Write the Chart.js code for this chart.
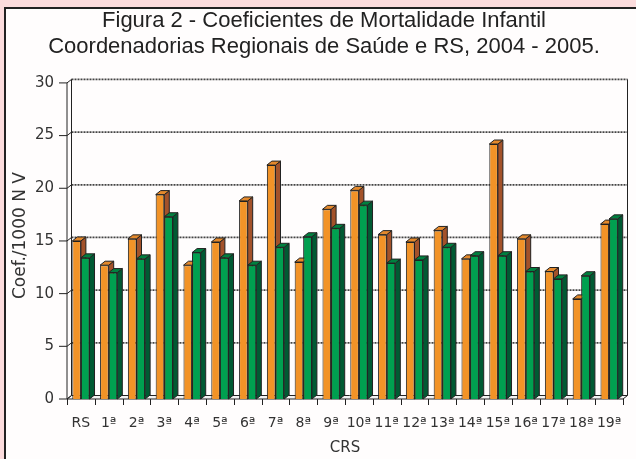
<!DOCTYPE html>
<html>
<head>
<meta charset="utf-8">
<script src="https://cdn.jsdelivr.net/npm/chart.js@4"></script>
<style>
  html, body { margin: 0; padding: 0; }
  body { width: 636px; height: 459px; background: #fcdcdd; position: relative; overflow: hidden; }
  #box { position: absolute; left: 4px; top: 7px; width: 660px; height: 480px; border: 2px solid #222; background: #fffdfd; }
  #wrap { position: absolute; left: 0; top: 0; width: 636px; height: 459px; }
</style>
</head>
<body>
<div id="box"></div>
<div id="wrap"><canvas id="chart" width="636" height="459"></canvas></div>
<script>
const categories = ['RS', '1ª', '2ª', '3ª', '4ª', '5ª', '6ª', '7ª', '8ª', '9ª', '10ª', '11ª', '12ª', '13ª', '14ª', '15ª', '16ª', '17ª', '18ª', '19ª'];
const values2004 = [15.0, 12.7, 15.2, 19.4, 12.7, 14.9, 18.8, 22.2, 13.0, 18.0, 19.8, 15.6, 14.9, 16.0, 13.3, 24.2, 15.2, 12.1, 9.5, 16.6];
const values2005 = [13.4, 12.0, 13.3, 17.3, 13.9, 13.4, 12.7, 14.4, 15.4, 16.2, 18.4, 12.9, 13.2, 14.4, 13.6, 13.6, 12.1, 11.4, 11.7, 17.1];
const yTicks = [0, 5, 10, 15, 20, 25, 30];

// depth of the 3D effect
const DX = 5, DY = 4;     // bars
const WX = 4.5, WY = 3.5; // walls

const faces = [
  { top: '#e4892c', side: '#a3522a' },
  { top: '#00803f', side: '#005a33' }
];

function poly(ctx, pts, fill) {
  ctx.beginPath();
  ctx.moveTo(pts[0][0], pts[0][1]);
  for (let i = 1; i < pts.length; i++) ctx.lineTo(pts[i][0], pts[i][1]);
  ctx.closePath();
  ctx.fillStyle = fill;
  ctx.fill();
  ctx.stroke();
}

function drawFaces(ctx, meta, f) {
  ctx.save();
  ctx.strokeStyle = '#222';
  ctx.lineWidth = 1;
  ctx.lineJoin = 'round';
  meta.data.forEach(bar => {
    const p = bar.getProps(['x', 'y', 'base', 'width'], true);
    const l = p.x - p.width / 2, r = p.x + p.width / 2;
    poly(ctx, [[r, p.y], [r + DX, p.y - DY], [r + DX, p.base - DY], [r, p.base]], f.side);
    poly(ctx, [[l, p.y], [l + DX, p.y - DY], [r + DX, p.y - DY], [r, p.y]], f.top);
  });
  ctx.restore();
}

const walls = {
  id: 'walls',
  afterLayout(chart) {
    // centre the title on the framed box rather than on the padded layout
    chart.titleBlock.left = 12;
    chart.titleBlock.right = 636;
  },
  beforeDatasetsDraw(chart) {
    const ctx = chart.ctx;
    const area = chart.chartArea;
    const y = chart.scales.y;
    const x0 = area.left, x1 = area.right, y0 = y.getPixelForValue(0);
    ctx.save();
    // floor
    ctx.strokeStyle = '#222';
    ctx.lineWidth = 1;
    poly(ctx, [[x0, y0], [x1, y0], [x1 + WX, y0 - WY], [x0 + WX, y0 - WY]], '#f2f2f2');
    // back wall gridlines
    ctx.strokeStyle = '#444';
    ctx.lineWidth = 1.8;
    ctx.setLineDash([2, 1]);
    yTicks.forEach(v => {
      if (v === 0) return;
      const py = y.getPixelForValue(v) - WY;
      ctx.beginPath();
      ctx.moveTo(x0 + WX, py);
      ctx.lineTo(x1 + WX, py);
      ctx.stroke();
    });
    ctx.setLineDash([]);
    ctx.strokeStyle = '#222';
    ctx.lineWidth = 1;
    // left wall edges and tick connectors
    const yTop = y.getPixelForValue(30);
    ctx.beginPath();
    ctx.moveTo(x0, y0); ctx.lineTo(x0, yTop);
    ctx.moveTo(x0 + WX, y0 - WY); ctx.lineTo(x0 + WX, yTop - WY);
    ctx.moveTo(x1 + WX, y0 - WY); ctx.lineTo(x1 + WX, yTop - WY);
    yTicks.forEach(v => {
      const py = y.getPixelForValue(v);
      ctx.moveTo(x0 - 8, py); ctx.lineTo(x0, py);
      ctx.lineTo(x0 + WX, py - WY);
    });
    // x tick marks
    const n = categories.length;
    const step = (x1 - x0) / n;
    for (let i = 0; i <= n; i++) {
      const px = Math.round(x0 + i * step) + 0.5;
      ctx.moveTo(px, y0); ctx.lineTo(px, y0 + 6);
    }
    ctx.stroke();
    ctx.restore();
  },
  afterDatasetsDraw(chart) {
    const ctx = chart.ctx;
    // orange side/top go behind the green front, so redraw green fronts after them
    drawFaces(ctx, chart.getDatasetMeta(0), faces[0]);
    chart.getDatasetMeta(1).data.forEach(bar => bar.draw(ctx, chart.chartArea));
    drawFaces(ctx, chart.getDatasetMeta(1), faces[1]);
  }
};

new Chart(document.getElementById('chart'), {
  type: 'bar',
  data: {
    labels: categories,
    datasets: [
      {
        label: '2004',
        data: values2004,
        backgroundColor: '#f29327',
        borderColor: '#222',
        borderWidth: 1,
        borderSkipped: 'bottom'
      },
      {
        label: '2005',
        data: values2005,
        backgroundColor: '#00a050',
        borderColor: '#222',
        borderWidth: 1,
        borderSkipped: 'bottom'
      }
    ]
  },
  options: {
    responsive: false,
    animation: false,
    events: [],
    layout: { padding: { left: 0, right: 13, top: 0, bottom: 0 } },
    datasets: {
      bar: { categoryPercentage: 0.62, barPercentage: 1.0 }
    },
    plugins: {
      legend: { display: false },
      tooltip: { enabled: false },
      title: {
        display: true,
        text: ['Figura 2 - Coeficientes de Mortalidade Infantil', 'Coordenadorias Regionais de Saúde e RS, 2004 - 2005.'],
        color: '#222',
        font: { family: 'Liberation Sans', size: 22, weight: 'normal', lineHeight: 1.18 },
        padding: { top: 8, bottom: 23 }
      }
    },
    scales: {
      x: {
        grid: { display: false, drawTicks: true, tickLength: 6 },
        border: { display: false },
        ticks: { color: '#333', font: { family: 'DejaVu Sans', size: 14 }, padding: 10, maxRotation: 0, autoSkip: false },
        title: { display: true, text: 'CRS', color: '#333', font: { family: 'DejaVu Sans', size: 15 }, padding: { top: 4, bottom: 2 } },
        afterFit(scale) { scale.height = 60; }
      },
      y: {
        min: 0,
        max: 30,
        afterBuildTicks(scale) { scale.ticks = yTicks.map(v => ({ value: v })); },
        grid: { display: false, drawTicks: true, tickLength: 8 },
        border: { display: false },
        ticks: { color: '#333', font: { family: 'DejaVu Sans', size: 15 }, padding: 5 },
        title: { display: true, text: '\u00a0\u00a0Coef./1000 N V', color: '#333', font: { family: 'DejaVu Sans', size: 17 }, padding: { top: 10, bottom: 0 } },
        afterFit(scale) { scale.width = 67; }
      }
    }
  },
  plugins: [walls]
});
</script>
</body>
</html>
